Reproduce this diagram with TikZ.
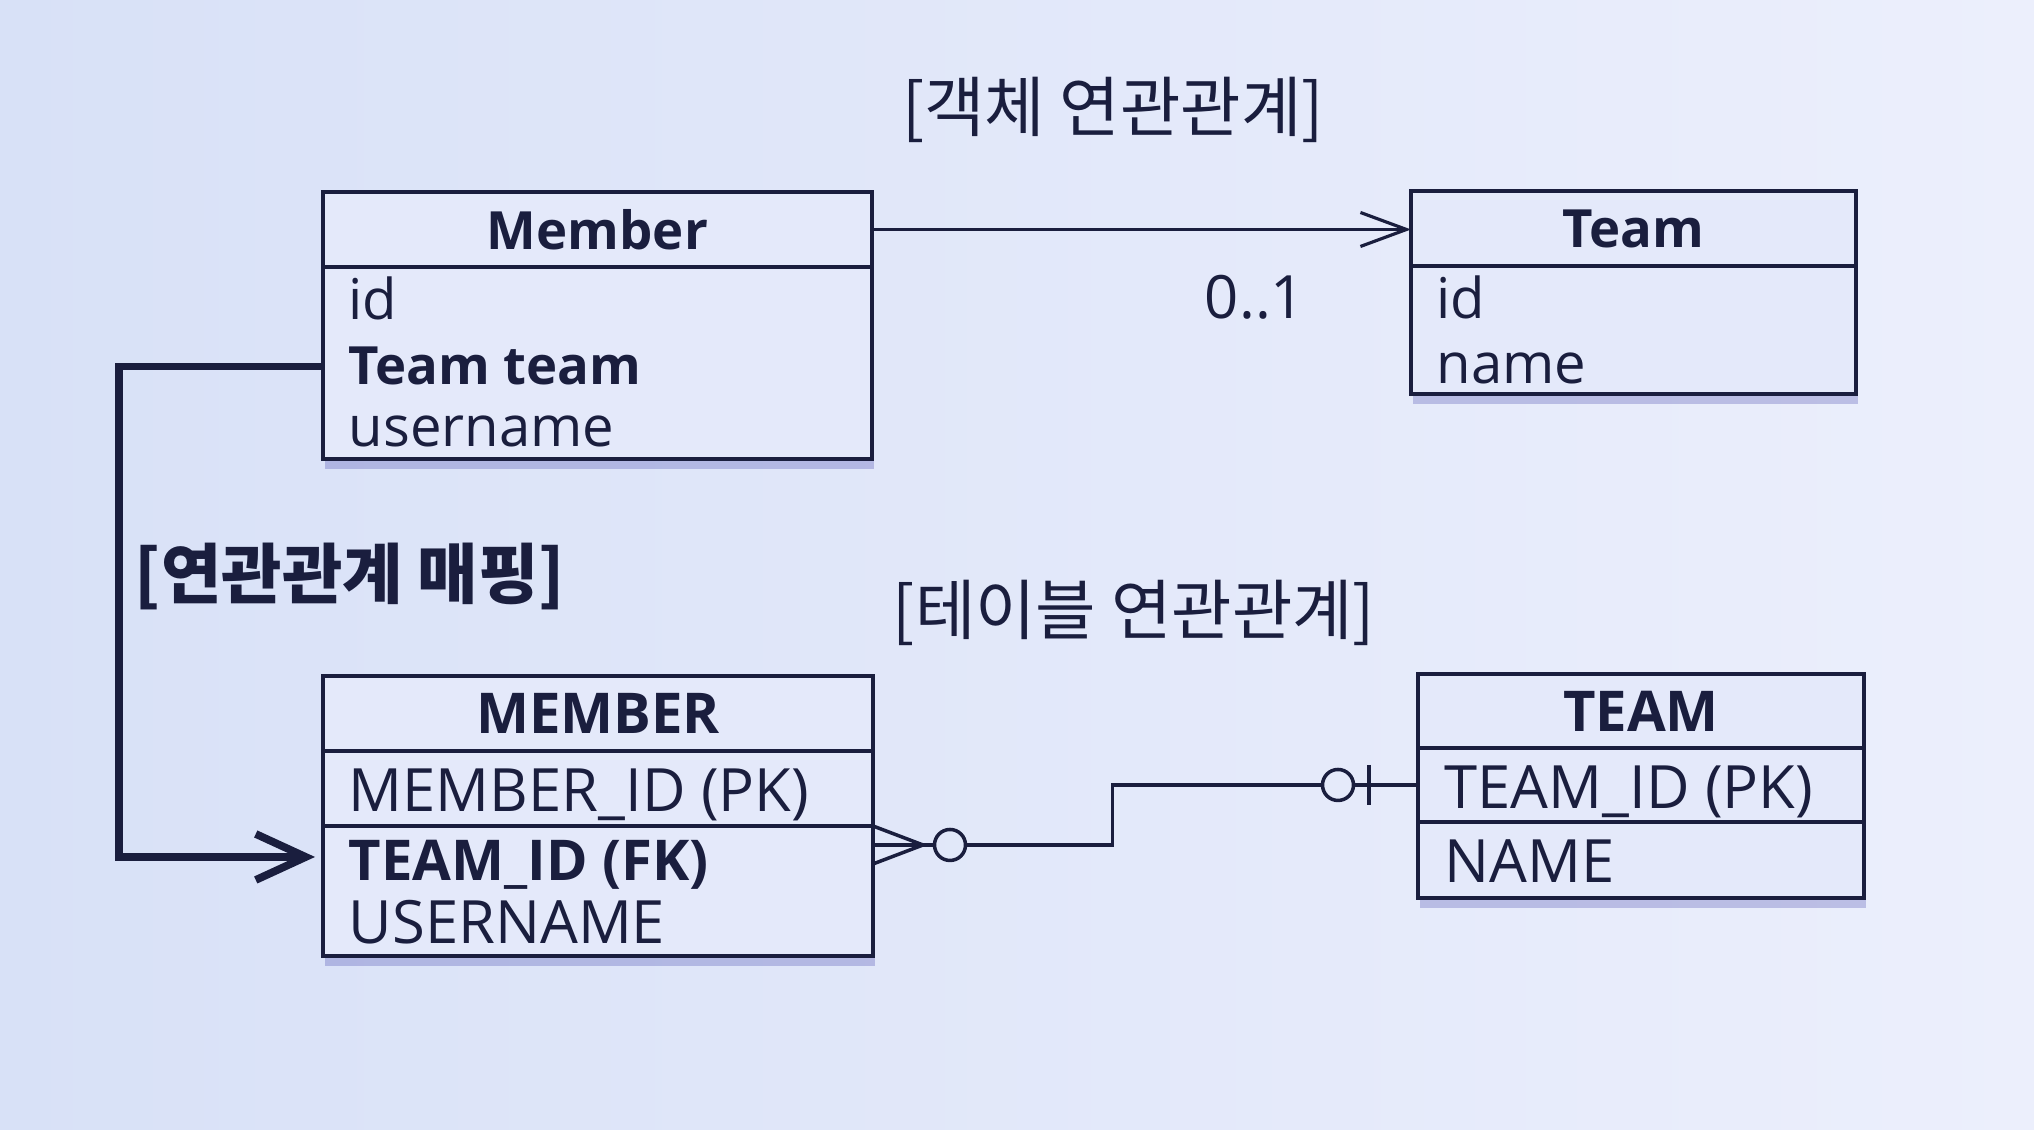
\documentclass[tikz,border=0pt]{standalone}
\usepackage{fontspec}
\setmainfont{Open Sans}
\newfontfamily\krfont{Noto Sans CJK KR}
\usetikzlibrary{arrows.meta,calc,positioning,shadows}
\definecolor{ink}{RGB}{26,30,62}
\definecolor{bgL}{RGB}{216,225,247}
\definecolor{bgR}{RGB}{236,239,252}
\definecolor{boxfill}{RGB}{228,233,250}
\tikzset{
  boxpart/.style   = {draw=ink, line width=1.1pt, fill=boxfill, inner sep=0pt, outer sep=0pt},
  boxshadow/.style = {drop shadow={shadow xshift=0.2mm, shadow yshift=-1mm, opacity=0.2, fill=blue!55!black}},
  hdrfont/.style   = {text=ink, font=\fontsize{15pt}{18pt}\selectfont\bfseries},
  colhdr/.style    = {text=ink, font=\fontsize{16pt}{19pt}\selectfont\bfseries},
  attr/.style      = {anchor=base west, inner sep=0pt, text=ink, font=\fontsize{16pt}{19pt}\selectfont},
  colattr/.style   = {anchor=base west, inner sep=0pt, text=ink, font=\fontsize{17pt}{20pt}\selectfont},
  krlabel/.style   = {text=ink, inner sep=0pt, font=\krfont\fontsize{18.7pt}{22pt}\selectfont},
  assoc/.style     = {ink, line width=0.9pt, -{Straight Barb[length=4.6mm,width=3.4mm]}},
  mapline/.style   = {ink, line width=2.2pt, -{Straight Barb[length=5mm,width=4.6mm]}},
  erline/.style    = {ink, line width=1pt},
  ercircle/.style  = {circle, draw=ink, line width=1pt, minimum size=3.1mm, inner sep=0pt}
}

\begin{document}
\begin{tikzpicture}
  \useasboundingbox (0,0) rectangle (20.34,11.30);
  \shade[left color=bgL, right color=bgR] (0,0) rectangle (20.34,11.30);

  % object model
  \node[krlabel] (objTitle) at (11.13,10.20) {[객체 연관관계]};
  \node[boxpart, hdrfont, minimum width=5.49cm, minimum height=0.75cm, anchor=north west]
        (objMember) at (3.23,9.38) {Member};
  \node[boxpart, boxshadow, minimum width=5.49cm, minimum height=1.92cm, below=0pt of objMember]
        (objMemberBody) {};
  \node[attr] (mId) at (3.48,8.10) {id};
  \node[attr, font=\fontsize{15pt}{18pt}\selectfont\bfseries] (mTeam) at (3.48,7.45) {Team team};
  \node[attr] (mName) at (3.48,6.83) {username};

  \node[boxpart, hdrfont, minimum width=4.45cm, minimum height=0.75cm, anchor=north west]
        (objTeam) at (14.11,9.39) {Team};
  \node[boxpart, boxshadow, minimum width=4.45cm, minimum height=1.28cm, below=0pt of objTeam]
        (objTeamBody) {};
  \node[attr] (tId) at (14.36,8.11) {id};
  \node[attr] (tName) at (14.36,7.46) {name};

  \draw[assoc] (objMember.east) -- (objMember.east -| objTeam.west);
  \node[colattr, anchor=base] (mult) at (12.55,8.11) {0..1};

  % mapping
  \node[krlabel, font=\krfont\fontsize{18.7pt}{22pt}\selectfont\bfseries] (mapTitle) at (3.50,5.53) {[연관관계 매핑]};

  % tables
  \node[krlabel] (tblTitle) at (11.34,5.17) {[테이블 연관관계]};
  \node[boxpart, colhdr, minimum width=5.50cm, minimum height=0.75cm, anchor=north west]
        (tblMember) at (3.23,4.54) {MEMBER};
  \node[boxpart, minimum width=5.50cm, minimum height=0.75cm, below=0pt of tblMember]
        (tblMemberPk) {};
  \node[boxpart, boxshadow, minimum width=5.50cm, minimum height=1.30cm, below=0pt of tblMemberPk]
        (tblMemberRest) {};
  \node[colattr] (mPk) at (3.48,3.18) {MEMBER\_ID (PK)};
  \node[colattr, font=\fontsize{16pt}{19pt}\selectfont\bfseries] (mFk) at (3.48,2.49) {TEAM\_ID (FK)};
  \node[colattr] (mUser) at (3.48,1.86) {USERNAME};

  \node[boxpart, colhdr, minimum width=4.46cm, minimum height=0.74cm, anchor=north west]
        (tblTeam) at (14.18,4.56) {TEAM};
  \node[boxpart, minimum width=4.46cm, minimum height=0.74cm, below=0pt of tblTeam]
        (tblTeamPk) {};
  \node[boxpart, boxshadow, minimum width=4.46cm, minimum height=0.76cm, below=0pt of tblTeamPk]
        (tblTeamName) {};
  \node[colattr] (tPk) at (14.44,3.21) {TEAM\_ID (PK)};
  \node[colattr] (tNm) at (14.44,2.47) {NAME};

  % field Team team -> column TEAM_ID
  \draw[mapline, shorten >=0.8mm] (objMemberBody.west |- mTeam.west) -- ++(-2.04,0)
        |- ([yshift=-3.1mm]tblMemberRest.north west);

  % crow's foot, zero or many
  \coordinate (crow) at ($(tblMemberRest.north east)+(0.50,-0.19)$);
  \node[ercircle] (crowCirc) at ($(crow)+(0.27,0)$) {};
  \draw[erline] (tblMemberRest.north east) -- (crow) -- ($(tblMemberRest.north east)+(0,-0.38)$);
  \draw[erline] (tblMemberRest.east |- crow) -- (crowCirc.west);
  % zero or one
  \node[ercircle] (oneCirc) at ($(tblTeamPk.west)+(-0.80,0)$) {};
  \draw[erline] (crowCirc.east) -- ++(1.45,0) |- (oneCirc.west);
  \draw[erline] (oneCirc.east) -- (tblTeamPk.west);
  \draw[erline] ($(tblTeamPk.west)+(-0.49,0.20)$) -- ++(0,-0.40);
\end{tikzpicture}
\end{document}
